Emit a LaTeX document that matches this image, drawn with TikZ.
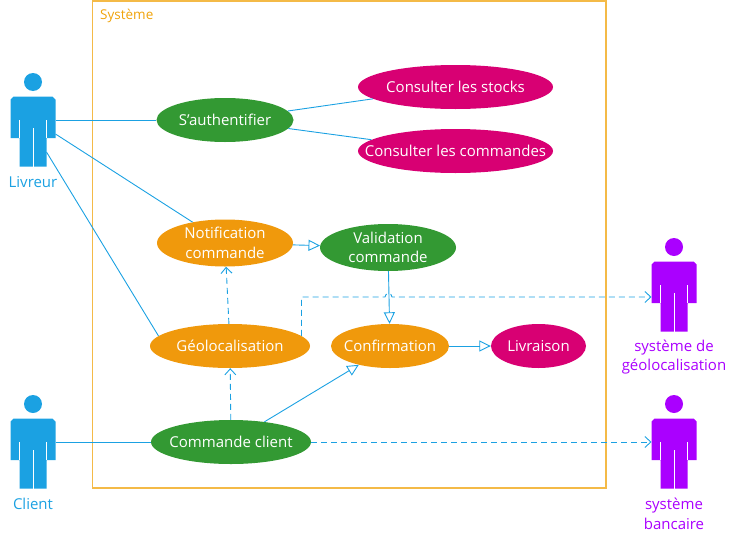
\documentclass[tikz,border=0pt]{standalone}
\usepackage{fontspec}
\setmainfont{Open Sans}
\usetikzlibrary{arrows.meta}
\usetikzlibrary{shapes.geometric}
\definecolor{mblue}{HTML}{1BA1E2}
\definecolor{mpurple}{HTML}{AA00FF}
\definecolor{mgreen}{HTML}{339933}
\definecolor{morange}{HTML}{F0990C}
\definecolor{mpink}{HTML}{D80073}
\definecolor{mamber}{HTML}{F0A30A}
\tikzset{usecase/.style = {ellipse, inner xsep = -30, inner ysep = -12, text = white, align = center,
                           font = \fontsize{15}{19.5}\selectfont}}
\tikzset{actorname/.style = {align = center, font = \fontsize{15}{19.5}\selectfont}}
\tikzset{link/.style = {mblue, line width = 0.9}}
\tikzset{dep/.style = {link, dash pattern = on 6 off 4,
                       -{Straight Barb[length = 6, width = 11]}}}
\tikzset{gen/.style = {link, -{Triangle[open, length = 11.5, width = 11]}}}
\tikzset{actor/.pic = {
    \fill [pic actions] (0, 0) circle [radius = 9];
    \fill [pic actions] (-19.5, 14.5) -- (19.5, 14.5) -- (22.5, 17.5) -- (22.5, 56)
      -- (13.5, 56) -- (13.5, 84.5) -- (-13.5, 84.5) -- (-13.5, 56) -- (-22.5, 56)
      -- (-22.5, 17.5) -- cycle;
    \draw [white, line width = 0.5] (-13.5, 38) -- (-13.5, 56);
    \draw [white, line width = 0.5] (13.5, 38) -- (13.5, 56);
    \draw [white, line width = 0.7] (0, 46) -- (0, 84.5);
    \coordinate (-side) at (22.5, 38);
    \coordinate (-otherside) at (-22.5, 38);
    \coordinate (-arm) at (22.5, 52);
    \coordinate (-hand) at (-22.5, 50);
    \coordinate (-leg) at (13.5, 70);
  }}

\begin{document}
\begin{tikzpicture}[x=1pt, y=-1pt]
  \useasboundingbox (0, 0) rectangle (736, 541);
  \draw [mamber!75, line width = 1.3] (92.5, 1) rectangle (606, 488);
  \node [mamber, anchor = west, font = \fontsize{13.5}{16}\selectfont] (systeme) at (96.7, 16) {Système};

  % actors
  \pic [fill = mblue] (livreur) at (33, 82) {actor};
  \pic [fill = mblue] (client) at (33, 404) {actor};
  \pic [fill = mpurple] (sysgeo) at (674, 247) {actor};
  \pic [fill = mpurple] (sysbank) at (674, 404) {actor};
  \node [actorname, mblue] (livreurname) at (33, 182) {Livreur};
  \node [actorname, mblue] (clientname) at (33, 504) {Client};
  \node [actorname, mpurple] (sysgeoname) at (674, 357) {système de\\géolocalisation};
  \node [actorname, mpurple] (sysbankname) at (674, 514) {système\\bancaire};

  % use cases
  \node [usecase, fill = mgreen, minimum width = 137, minimum height = 44] (auth) at (225, 120) {S'authentifier};
  \node [usecase, fill = mpink, minimum width = 195, minimum height = 44] (stocks) at (455.5, 87) {Consulter les stocks};
  \node [usecase, fill = mpink, minimum width = 195, minimum height = 44] (commandes) at (455.5, 151) {Consulter les commandes};
  \node [usecase, fill = morange, minimum width = 136, minimum height = 47] (notif) at (225, 243) {Notification\\commande};
  \node [usecase, fill = mgreen, minimum width = 136, minimum height = 47] (valid) at (388, 247.5) {Validation\\commande};
  \node [usecase, fill = morange, minimum width = 160, minimum height = 44] (geoloc) at (230, 346) {Géolocalisation};
  \node [usecase, fill = morange, minimum width = 118, minimum height = 44] (confirm) at (390, 346) {Confirmation};
  \node [usecase, fill = mpink, minimum width = 95, minimum height = 44] (livraison) at (538.5, 346) {Livraison};
  \node [usecase, fill = mgreen, minimum width = 160, minimum height = 44] (cmdclient) at (231, 442) {Commande client};

  % connectors
  \draw [link] (livreur-side) -- (auth);
  \draw [link] (livreur-arm) -- (notif);
  \draw [link] (livreur-leg) -- (geoloc.172);
  \draw [link] (client-side) -- (cmdclient);
  \draw [link] (auth) -- (stocks);
  \draw [link] (auth) -- (commandes);
  \draw [gen] (notif) -- (valid);
  \draw [gen] (valid) -- (confirm);
  \draw [gen] (confirm) -- (livraison);
  \draw [gen] (cmdclient) -- (confirm);
  \draw [dep] (geoloc) -- (notif);
  \draw [dep] (cmdclient) -- (geoloc);
  \draw [dep] (cmdclient) -- (sysbank-otherside);

  \coordinate (hop) at (385, 297);
  \draw [dep] (geoloc.8) |- (hop) arc [start angle = 180, end angle = 360, radius = 3.5] -- (sysgeo-hand);
\end{tikzpicture}
\end{document}
